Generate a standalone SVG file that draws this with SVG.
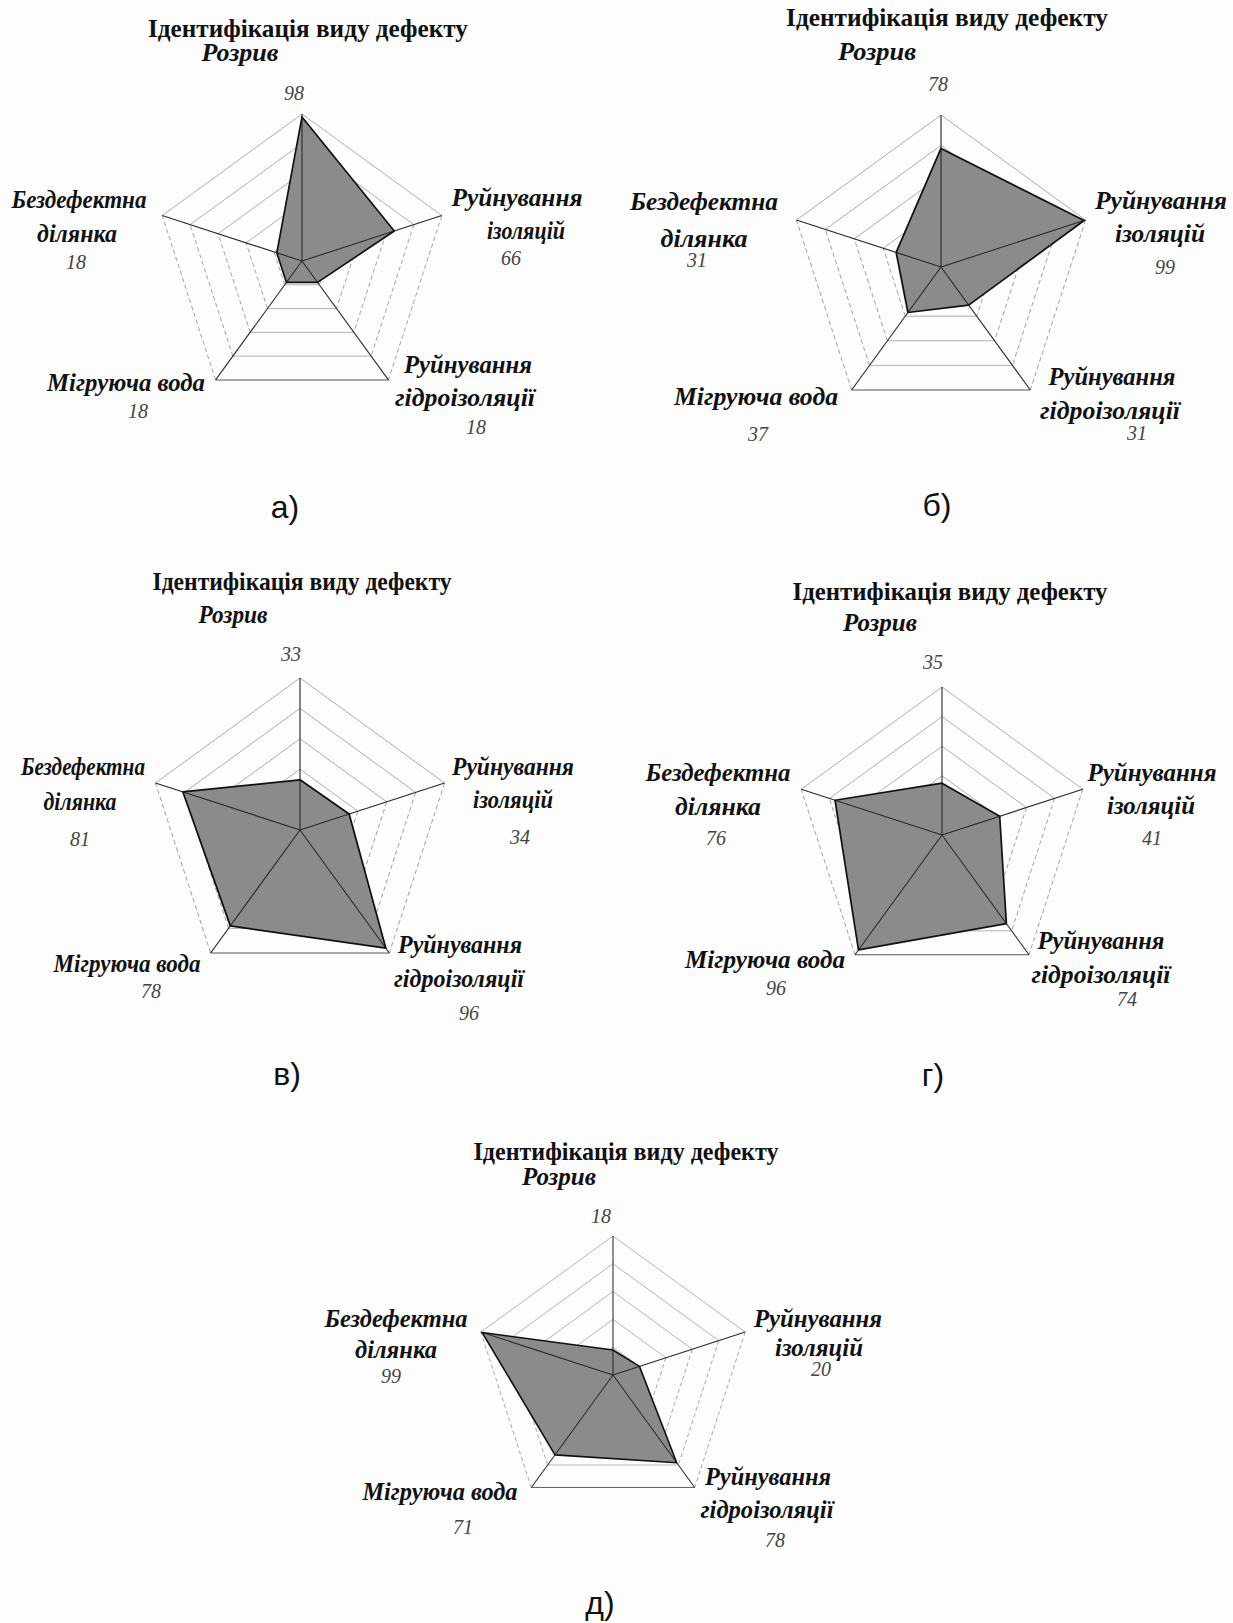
<svg xmlns="http://www.w3.org/2000/svg" xmlns:xlink="http://www.w3.org/1999/xlink" width="1233" height="1623" viewBox="0 0 1233 1623">
<style>
.gu{fill:none;stroke:#9c9c9c;stroke-width:0.55}
.gd{fill:none;stroke:#8c8c8c;stroke-width:0.55;stroke-dasharray:3 2}
.gb{fill:none;stroke:#a0a0a0;stroke-width:0.55}
.go{fill:none;stroke:#555;stroke-width:0.7}
.sp{stroke:#2a2a2a;stroke-width:0.75}
.df{fill:#8b8b8b;stroke:none}
.dl{fill:none;stroke:#111;stroke-width:1.15;stroke-linejoin:round}
.t{font-family:"Liberation Serif","Times New Roman",serif;font-weight:bold;font-size:25px;fill:#111;text-anchor:middle}
.l{font-family:"Liberation Serif","Times New Roman",serif;font-weight:bold;font-style:italic;font-size:25px;fill:#111;text-anchor:middle}
.n{font-family:"Liberation Serif","Times New Roman",serif;font-style:italic;font-size:20px;fill:#444;text-anchor:middle}
.c{font-family:"Liberation Sans",Arial,sans-serif;font-size:32px;fill:#111;text-anchor:middle}
</style>
<defs>
<g id="grid">
<polyline class="gu" points="-19.02,-6.18 0,-20 19.02,-6.18"/>
<polyline class="gu" points="-38.04,-12.36 0,-40 38.04,-12.36"/>
<polyline class="gu" points="-57.07,-18.54 0,-60 57.07,-18.54"/>
<polyline class="gu" points="-76.09,-24.72 0,-80 76.09,-24.72"/>
<polyline class="gu" points="-95.11,-30.9 0,-100 95.11,-30.9"/>
<line class="gd" x1="19.02" y1="-6.18" x2="11.76" y2="16.18"/>
<line class="gd" x1="-11.76" y1="16.18" x2="-19.02" y2="-6.18"/>
<line class="gd" x1="38.04" y1="-12.36" x2="23.51" y2="32.36"/>
<line class="gd" x1="-23.51" y1="32.36" x2="-38.04" y2="-12.36"/>
<line class="gd" x1="57.07" y1="-18.54" x2="35.27" y2="48.54"/>
<line class="gd" x1="-35.27" y1="48.54" x2="-57.07" y2="-18.54"/>
<line class="gd" x1="76.09" y1="-24.72" x2="47.02" y2="64.72"/>
<line class="gd" x1="-47.02" y1="64.72" x2="-76.09" y2="-24.72"/>
<line class="gd" x1="95.11" y1="-30.9" x2="58.78" y2="80.9"/>
<line class="gd" x1="-58.78" y1="80.9" x2="-95.11" y2="-30.9"/>
<line class="gb" x1="11.76" y1="16.18" x2="-11.76" y2="16.18"/>
<line class="gb" x1="23.51" y1="32.36" x2="-23.51" y2="32.36"/>
<line class="gb" x1="35.27" y1="48.54" x2="-35.27" y2="48.54"/>
<line class="gb" x1="47.02" y1="64.72" x2="-47.02" y2="64.72"/>
<line class="go" x1="58.78" y1="80.9" x2="-58.78" y2="80.9"/>
</g>
<g id="spokes">
<line class="sp" x1="0" y1="0" x2="0" y2="-100"/>
<line class="sp" x1="0" y1="0" x2="95.11" y2="-30.9"/>
<line class="sp" x1="0" y1="0" x2="58.78" y2="80.9"/>
<line class="sp" x1="0" y1="0" x2="-58.78" y2="80.9"/>
<line class="sp" x1="0" y1="0" x2="-95.11" y2="-30.9"/>
</g>
</defs>
<rect x="0" y="0" width="1233" height="1623" fill="#fdfdfd"/>

<g id="chart-a">
<g transform="translate(302,261) scale(1.47)">
<use href="#grid"/>
<polygon class="df" points="0,-98 62.77,-20.39 10.58,14.56 -10.58,14.56 -17.12,-5.56"/>
<use href="#spokes"/>
<polygon class="dl" points="0,-98 62.77,-20.39 10.58,14.56 -10.58,14.56 -17.12,-5.56"/>
</g>
<text class="t" x="308" y="37" textLength="320" lengthAdjust="spacingAndGlyphs">Ідентифікація виду дефекту</text>
<text class="l" x="240" y="61" textLength="77" lengthAdjust="spacingAndGlyphs">Розрив</text>
<text class="n" x="294" y="100">98</text>
<text class="l" x="517" y="206" textLength="131" lengthAdjust="spacingAndGlyphs">Руйнування</text>
<text class="l" x="526" y="239" textLength="78" lengthAdjust="spacingAndGlyphs">ізоляцій</text>
<text class="n" x="511" y="265">66</text>
<text class="l" x="79" y="208" textLength="135" lengthAdjust="spacingAndGlyphs">Бездефектна</text>
<text class="l" x="77" y="242" textLength="80" lengthAdjust="spacingAndGlyphs">ділянка</text>
<text class="n" x="76" y="269">18</text>
<text class="l" x="126" y="391" textLength="158" lengthAdjust="spacingAndGlyphs">Мігруюча вода</text>
<text class="n" x="138" y="418">18</text>
<text class="l" x="468" y="373" textLength="128" lengthAdjust="spacingAndGlyphs">Руйнування</text>
<text class="l" x="465" y="406" textLength="140" lengthAdjust="spacingAndGlyphs">гідроізоляції</text>
<text class="n" x="476" y="434">18</text>
<text class="c" x="285" y="518">а)</text>
</g>

<g id="chart-b">
<g transform="translate(941,267) scale(1.52)">
<use href="#grid"/>
<polygon class="df" points="0,-78 94.16,-30.59 18.22,25.08 -21.75,29.93 -29.48,-9.58"/>
<use href="#spokes"/>
<polygon class="dl" points="0,-78 94.16,-30.59 18.22,25.08 -21.75,29.93 -29.48,-9.58"/>
</g>
<text class="t" x="947" y="26" textLength="322" lengthAdjust="spacingAndGlyphs">Ідентифікація виду дефекту</text>
<text class="l" x="877" y="60" textLength="78" lengthAdjust="spacingAndGlyphs">Розрив</text>
<text class="n" x="938" y="91">78</text>
<text class="l" x="1161" y="209" textLength="132" lengthAdjust="spacingAndGlyphs">Руйнування</text>
<text class="l" x="1160" y="242" textLength="90" lengthAdjust="spacingAndGlyphs">ізоляцій</text>
<text class="n" x="1165" y="274">99</text>
<text class="l" x="704" y="210" textLength="148" lengthAdjust="spacingAndGlyphs">Бездефектна</text>
<text class="l" x="704" y="247" textLength="87" lengthAdjust="spacingAndGlyphs">ділянка</text>
<text class="n" x="697" y="267">31</text>
<text class="l" x="756" y="405" textLength="164" lengthAdjust="spacingAndGlyphs">Мігруюча вода</text>
<text class="n" x="758" y="441">37</text>
<text class="l" x="1112" y="385" textLength="127" lengthAdjust="spacingAndGlyphs">Руйнування</text>
<text class="l" x="1110" y="419" textLength="140" lengthAdjust="spacingAndGlyphs">гідроізоляції</text>
<text class="n" x="1137" y="440">31</text>
<text class="c" x="937" y="516">б)</text>
</g>

<g id="chart-v">
<g transform="translate(300,830) scale(1.52)">
<use href="#grid"/>
<polygon class="df" points="0,-33 32.34,-10.51 56.43,77.66 -45.85,63.1 -77.04,-25.03"/>
<use href="#spokes"/>
<polygon class="dl" points="0,-33 32.34,-10.51 56.43,77.66 -45.85,63.1 -77.04,-25.03"/>
</g>
<text class="t" x="302" y="590" textLength="299" lengthAdjust="spacingAndGlyphs">Ідентифікація виду дефекту</text>
<text class="l" x="233" y="623" textLength="69" lengthAdjust="spacingAndGlyphs">Розрив</text>
<text class="n" x="291" y="661">33</text>
<text class="l" x="83" y="775" textLength="124" lengthAdjust="spacingAndGlyphs">Бездефектна</text>
<text class="l" x="80" y="810" textLength="73" lengthAdjust="spacingAndGlyphs">ділянка</text>
<text class="n" x="80" y="846">81</text>
<text class="l" x="513" y="775" textLength="122" lengthAdjust="spacingAndGlyphs">Руйнування</text>
<text class="l" x="513" y="808" textLength="80" lengthAdjust="spacingAndGlyphs">ізоляцій</text>
<text class="n" x="520" y="844">34</text>
<text class="l" x="127" y="972" textLength="147" lengthAdjust="spacingAndGlyphs">Мігруюча вода</text>
<text class="n" x="151" y="998">78</text>
<text class="l" x="460" y="953" textLength="124" lengthAdjust="spacingAndGlyphs">Руйнування</text>
<text class="l" x="459" y="987" textLength="130" lengthAdjust="spacingAndGlyphs">гідроізоляції</text>
<text class="n" x="469" y="1020">96</text>
<text class="c" x="287" y="1085">в)</text>
</g>

<g id="chart-g">
<g transform="translate(942,835) scale(1.48)">
<use href="#grid"/>
<polygon class="df" points="0,-35 39,-12.67 43.5,59.87 -56.43,77.66 -72.28,-23.48"/>
<use href="#spokes"/>
<polygon class="dl" points="0,-35 39,-12.67 43.5,59.87 -56.43,77.66 -72.28,-23.48"/>
</g>
<text class="t" x="950" y="600" textLength="315" lengthAdjust="spacingAndGlyphs">Ідентифікація виду дефекту</text>
<text class="l" x="880" y="631" textLength="74" lengthAdjust="spacingAndGlyphs">Розрив</text>
<text class="n" x="933" y="669">35</text>
<text class="l" x="718" y="781" textLength="145" lengthAdjust="spacingAndGlyphs">Бездефектна</text>
<text class="l" x="718" y="815" textLength="86" lengthAdjust="spacingAndGlyphs">ділянка</text>
<text class="n" x="716" y="845">76</text>
<text class="l" x="1152" y="781" textLength="129" lengthAdjust="spacingAndGlyphs">Руйнування</text>
<text class="l" x="1151" y="814" textLength="88" lengthAdjust="spacingAndGlyphs">ізоляцій</text>
<text class="n" x="1152" y="845">41</text>
<text class="l" x="765" y="968" textLength="160" lengthAdjust="spacingAndGlyphs">Мігруюча вода</text>
<text class="n" x="776" y="995">96</text>
<text class="l" x="1101" y="949" textLength="127" lengthAdjust="spacingAndGlyphs">Руйнування</text>
<text class="l" x="1101" y="983" textLength="139" lengthAdjust="spacingAndGlyphs">гідроізоляції</text>
<text class="n" x="1127" y="1006">74</text>
<text class="c" x="933" y="1086">г)</text>
</g>

<g id="chart-d">
<g transform="translate(613,1375) scale(1.39)">
<use href="#grid"/>
<polygon class="df" points="0,-18 19.02,-6.18 45.85,63.1 -41.73,57.44 -94.16,-30.59"/>
<use href="#spokes"/>
<polygon class="dl" points="0,-18 19.02,-6.18 45.85,63.1 -41.73,57.44 -94.16,-30.59"/>
</g>
<text class="t" x="626" y="1160" textLength="305" lengthAdjust="spacingAndGlyphs">Ідентифікація виду дефекту</text>
<text class="l" x="559" y="1185" textLength="74" lengthAdjust="spacingAndGlyphs">Розрив</text>
<text class="n" x="601" y="1223">18</text>
<text class="l" x="396" y="1327" textLength="143" lengthAdjust="spacingAndGlyphs">Бездефектна</text>
<text class="l" x="396" y="1358" textLength="82" lengthAdjust="spacingAndGlyphs">ділянка</text>
<text class="n" x="391" y="1383">99</text>
<text class="l" x="818" y="1327" textLength="128" lengthAdjust="spacingAndGlyphs">Руйнування</text>
<text class="l" x="819" y="1356" textLength="88" lengthAdjust="spacingAndGlyphs">ізоляцій</text>
<text class="n" x="821" y="1376">20</text>
<text class="l" x="440" y="1500" textLength="155" lengthAdjust="spacingAndGlyphs">Мігруюча вода</text>
<text class="n" x="463" y="1534">71</text>
<text class="l" x="768" y="1485" textLength="126" lengthAdjust="spacingAndGlyphs">Руйнування</text>
<text class="l" x="767" y="1518" textLength="133" lengthAdjust="spacingAndGlyphs">гідроізоляції</text>
<text class="n" x="775" y="1547">78</text>
<text class="c" x="600" y="1614">д)</text>
</g>
</svg>
